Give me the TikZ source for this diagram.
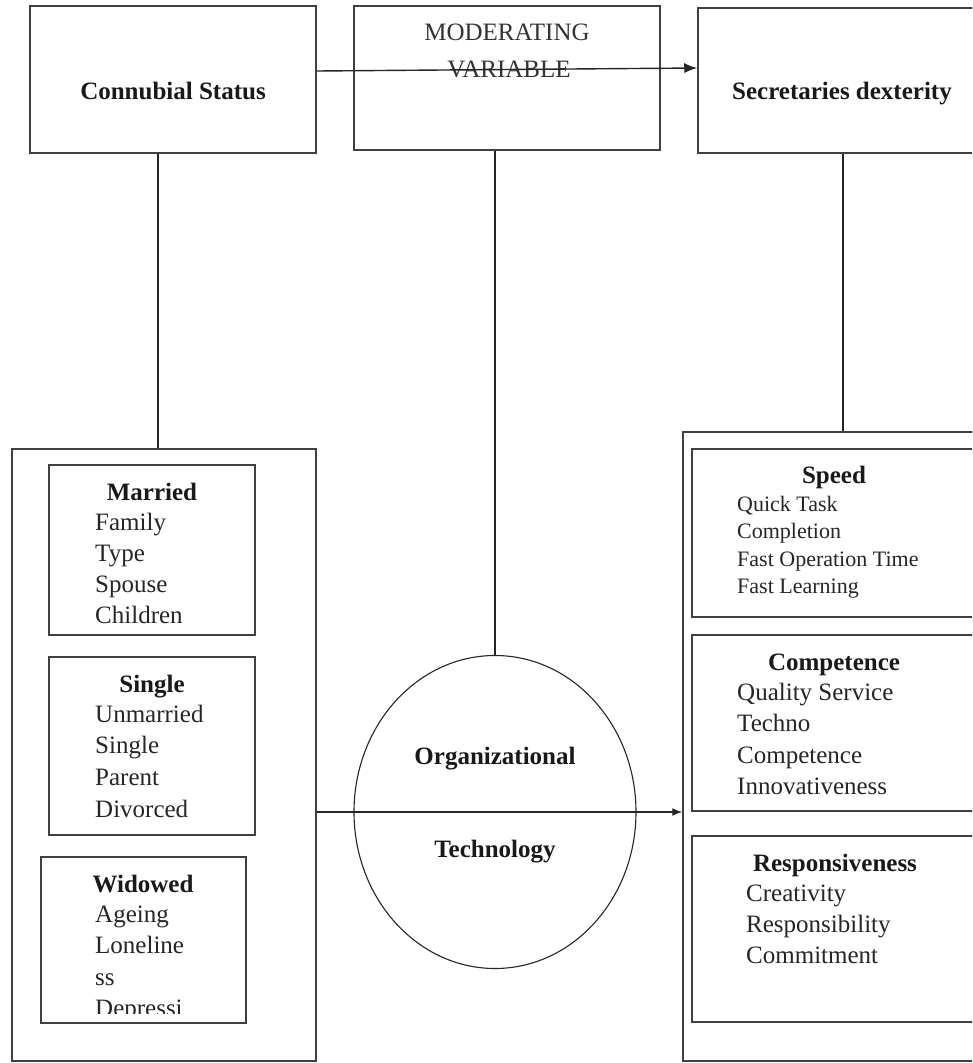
\documentclass[tikz,border=0pt]{standalone}
\usepackage{fontspec}
\setmainfont{Liberation Serif}
\usetikzlibrary{arrows.meta,calc,shapes.geometric}
\begin{document}
\begin{tikzpicture}[x=1pt,y=-1pt,
  box/.style={draw=black!75, line width=1.5pt, inner sep=0pt},
  ln/.style={draw=black!85, line width=1.4pt},
  ttl/.style={font=\fontsize{25}{30}\selectfont\bfseries, anchor=base, inner sep=0pt, text=black!90},
  reg/.style={font=\fontsize{25}{30}\selectfont, anchor=base, inner sep=0pt, text=black!80},
  itm/.style={font=\fontsize{25}{30}\selectfont, anchor=base west, inner sep=0pt, text=black!85},
  sitm/.style={font=\fontsize{22}{27}\selectfont, anchor=base west, inner sep=0pt, text=black!85},
]
\useasboundingbox (0,0) rectangle (972,1063);
\clip (0,0) rectangle (972,1063);
\fill[white] (0,0) rectangle (972,1063);

% top boxes
\node[box, minimum width=286pt, minimum height=147pt] (conn) at (173,79.5) {};
\node[box, minimum width=306pt, minimum height=144pt] (mod) at (507,78) {};
\node[box, minimum width=302pt, minimum height=145pt] (sec) at (849,80.5) {};
\node[ttl] (tconn) at (173,99) {Connubial Status};
\node[reg] (tmoda) at (507,40) {MODERATING};
\node[reg] (tmodb) at (509,77) {VARIABLE};
\node[ttl] (tsec) at (842,99) {Secretaries dexterity};

% big outer boxes
\node[box, minimum width=304pt, minimum height=612pt] (lout) at (164,755) {};
\node[box, minimum width=317pt, minimum height=629pt] (rout) at (841.5,746.5) {};

% left inner boxes
\node[box, minimum width=206pt, minimum height=170pt] (mar) at (152,550) {};
\node[box, minimum width=206pt, minimum height=178pt] (sgl) at (152,746) {};
\node[box, minimum width=205pt, minimum height=166pt] (wid) at (143.5,940) {};

% right inner boxes
\node[box, minimum width=308pt, minimum height=168pt] (spd) at (846,533) {};
\node[box, minimum width=308pt, minimum height=176pt] (cmp) at (846,723) {};
\node[box, minimum width=308pt, minimum height=186pt] (rsp) at (846,929) {};

% ellipse
\node[draw=black!85, line width=1.1pt, ellipse, minimum width=282pt, minimum height=313pt, inner sep=0pt] (circ) at (495,812) {};
\node[ttl] (torg) at (495,764) {Organizational};
\node[ttl] (ttec) at (495,857) {Technology};

% connectors
\draw[ln, -{Latex[length=13pt,width=10pt]}] ([yshift=8.5pt]conn.east) -- ([yshift=12.5pt]sec.west);
\draw[ln] ([xshift=-15pt]conn.south) -- ([xshift=-15pt]conn.south |- lout.north);
\draw[ln] (mod.south -| circ.north) -- (circ.north);
\draw[ln] ([xshift=-6pt]sec.south) -- ([xshift=-6pt]sec.south |- rout.north);
\draw[ln, -{Latex[length=10pt,width=8pt]}] (lout.east |- circ.center) -- (rout.west |- circ.center);

% Married
\node[ttl] (tmar) at (152,500) {Married};
\node[itm] (mar1) at (95,530) {Family};
\node[itm] (mar2) at (95,561) {Type};
\node[itm] (mar3) at (95,592) {Spouse};
\node[itm] (mar4) at (95,623) {Children};

% Single
\node[ttl] (tsgl) at (152,692) {Single};
\node[itm] (sgl1) at (95,722) {Unmarried};
\node[itm] (sgl2) at (95,753) {Single};
\node[itm] (sgl3) at (95,785) {Parent};
\node[itm] (sgl4) at (95,817) {Divorced};

% Widowed
\node[ttl] (twid) at (143,892) {Widowed};
\node[itm] (wid1) at (95,922) {Ageing};
\node[itm] (wid2) at (95,953) {Loneline};
\node[itm] (wid3) at (95,985) {ss};
\begin{scope}
  \clip (42,858) rectangle (245,1013);
  \node[itm] (wid4) at (95,1016) {Depressi};
\end{scope}

% Speed
\node[ttl] (tspd) at (834,483) {Speed};
\node[sitm] (spd1) at (737,511) {Quick Task};
\node[sitm] (spd2) at (737,538) {Completion};
\node[sitm] (spd3) at (737,566) {Fast Operation Time};
\node[sitm] (spd4) at (737,593) {Fast Learning};

% Competence
\node[ttl] (tcmp) at (834,670) {Competence};
\node[itm] (cmp1) at (737,700) {Quality Service};
\node[itm] (cmp2) at (737,731) {Techno};
\node[itm] (cmp3) at (737,763) {Competence};
\node[itm] (cmp4) at (737,794) {Innovativeness};

% Responsiveness
\node[ttl] (trsp) at (835,871) {Responsiveness};
\node[itm] (rsp1) at (746,901) {Creativity};
\node[itm] (rsp2) at (746,932) {Responsibility};
\node[itm] (rsp3) at (746,963) {Commitment};
\end{tikzpicture}
\end{document}
